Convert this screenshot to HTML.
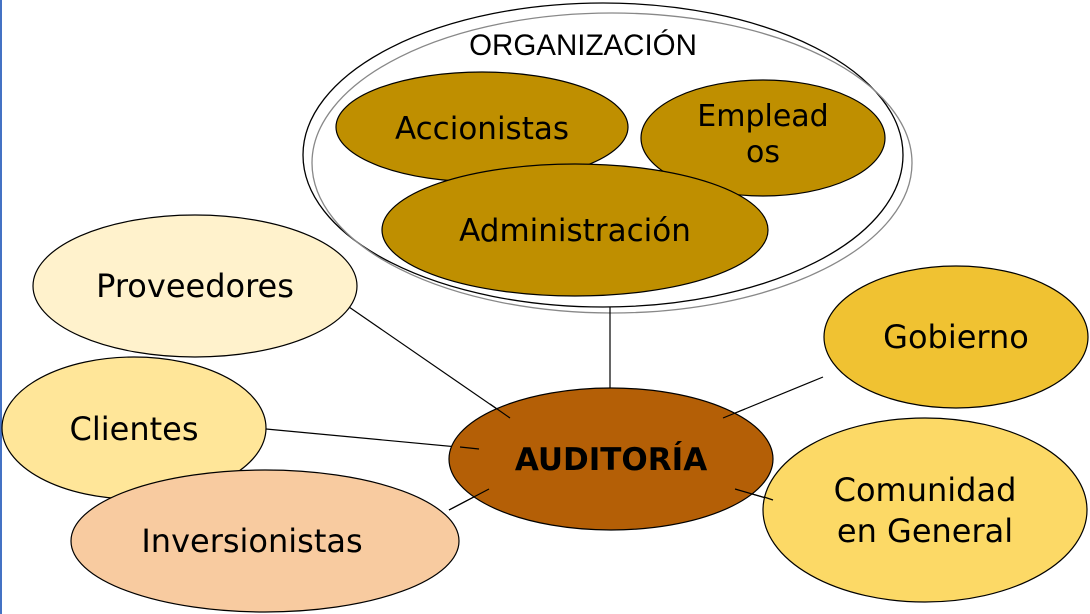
<!DOCTYPE html>
<html><head><meta charset="utf-8"><style>
html,body{margin:0;padding:0;background:#fff;width:1090px;height:614px;overflow:hidden}
svg text{font-family:"DejaVu Sans","Liberation Sans",sans-serif;fill:#000}
svg text.org{font-family:"Liberation Sans",sans-serif}
</style></head><body>
<svg width="1090" height="614" viewBox="0 0 1090 614" xmlns="http://www.w3.org/2000/svg">
<rect x="0" y="0" width="2" height="614" fill="#4472c4"/>
<ellipse cx="603" cy="155" rx="300" ry="152" fill="#fff" stroke="#000" stroke-width="1.3"/>
<ellipse cx="612" cy="163" rx="300" ry="150" fill="none" stroke="#888" stroke-width="1.3"/>
<text class="org" x="583" y="55" font-size="29.5" text-anchor="middle">ORGANIZACIÓN</text>
<ellipse cx="482" cy="127" rx="146" ry="55" fill="#bf8f00" stroke="#000" stroke-width="1.2"/>
<text x="482" y="139" font-size="31" text-anchor="middle">Accionistas</text>
<ellipse cx="763" cy="138" rx="122" ry="58" fill="#bf8f00" stroke="#000" stroke-width="1.2"/>
<text x="763" y="126" font-size="30" text-anchor="middle">Emplead</text>
<text x="763" y="162" font-size="30" text-anchor="middle">os</text>
<ellipse cx="575" cy="230" rx="193" ry="66" fill="#bf8f00" stroke="#000" stroke-width="1.2"/>
<text x="575" y="241" font-size="31" text-anchor="middle">Administración</text>
<g stroke="#000" stroke-width="1.2">
<line x1="610" y1="307" x2="610" y2="390"/>
<line x1="349" y1="307" x2="510" y2="418"/>
<line x1="266" y1="429" x2="479" y2="449"/>
<line x1="449" y1="510" x2="489" y2="489"/>
<line x1="723" y1="418" x2="823" y2="377"/>
<line x1="735" y1="489" x2="773" y2="500"/>
</g>
<ellipse cx="195" cy="286" rx="162" ry="71" fill="#fff2cc" stroke="#000" stroke-width="1.2"/>
<text x="195" y="297" font-size="32" text-anchor="middle">Proveedores</text>
<ellipse cx="134" cy="428" rx="132" ry="71" fill="#ffe699" stroke="#000" stroke-width="1.2"/>
<text x="134" y="440" font-size="32" text-anchor="middle">Clientes</text>
<ellipse cx="265" cy="541" rx="194" ry="71" fill="#f8cba0" stroke="#000" stroke-width="1.2"/>
<text x="252" y="552" font-size="32" text-anchor="middle">Inversionistas</text>
<ellipse cx="611" cy="459" rx="162" ry="71" fill="#b45f06" stroke="#000" stroke-width="1.2"/>
<line x1="723" y1="418" x2="745" y2="409" stroke="#000" stroke-width="1.2"/>
<line x1="735" y1="489" x2="773" y2="500" stroke="#000" stroke-width="1.2"/>
<line x1="449" y1="510" x2="489" y2="489" stroke="#000" stroke-width="1.2"/>
<line x1="479" y1="449" x2="460" y2="447" stroke="#000" stroke-width="1.2"/>
<line x1="510" y1="418" x2="490" y2="404" stroke="#000" stroke-width="1.2"/>
<text x="611" y="470" font-size="31" font-weight="bold" text-anchor="middle">AUDITORÍA</text>
<ellipse cx="956" cy="337" rx="132" ry="71" fill="#f0c232" stroke="#000" stroke-width="1.2"/>
<text x="956" y="348" font-size="32" text-anchor="middle">Gobierno</text>
<ellipse cx="925" cy="510" rx="162" ry="92" fill="#fcd966" stroke="#000" stroke-width="1.2"/>
<line x1="764" y1="497" x2="773" y2="500" stroke="#000" stroke-width="1.2"/>
<text x="925" y="501" font-size="32" text-anchor="middle">Comunidad</text>
<text x="925" y="542" font-size="32" text-anchor="middle">en General</text>
</svg>
</body></html>
